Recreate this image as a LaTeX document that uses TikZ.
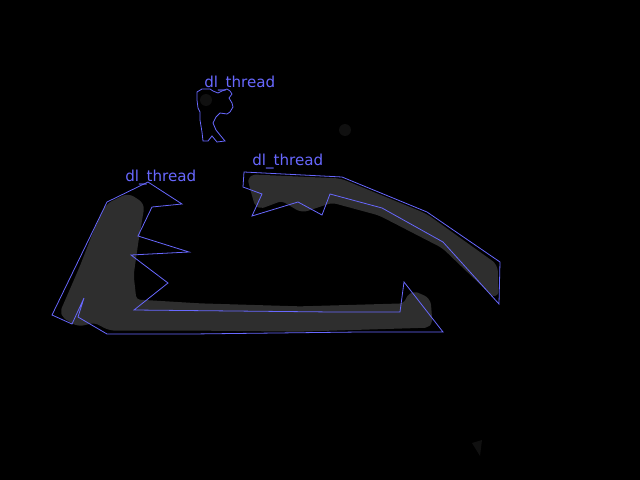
\documentclass[tikz,border=0pt]{standalone}
\usepackage{fontspec}
\setmainfont{DejaVu Sans}
\definecolor{outline}{RGB}{104,104,255}
\definecolor{maskgrey}{RGB}{46,46,46}
\definecolor{faintgrey}{RGB}{16,16,16}

\begin{document}
\begin{tikzpicture}[x=0.02cm,y=-0.02cm,
    region/.style={draw=outline,line width=0.45pt,line join=miter},
    blob/.style={fill=maskgrey,draw=maskgrey,line width=3pt,line join=round,rounded corners=3pt},
    tag/.style={text=outline,font=\fontsize{8.6}{10}\selectfont,inner sep=0pt,anchor=base west}]
    \fill[black] (0,0) rectangle (640,480);
    % faint blobs
    \fill[faintgrey] (345,130) circle (6);
    \fill[faintgrey] (472,443) -- (482,440) -- (480,456) -- cycle;
    \fill[faintgrey] (206,100) circle (6);
    % grey masks
    \path[blob] (108,206) -- (128,196) -- (142,205) -- (136,240) -- (131,275) -- (134,302)
        -- (200,306) -- (300,309) -- (405,306) -- (412,293) -- (428,300) -- (430,325)
        -- (300,329) -- (200,328) -- (110,328) -- (95,320) -- (78,324) -- (62,314)
        -- (82,268) -- (96,232) -- cycle;
    \path[blob] (250,177) -- (340,181) -- (425,216) -- (495,266) -- (496,296)
        -- (444,246) -- (380,213) -- (332,200) -- (302,210) -- (282,198) -- (258,207)
        -- (252,186) -- cycle;
    % outlines
    \draw[region] (148,182) -- (182,204) -- (152,207) -- (138,236) -- (189,252) -- (131,255)
        -- (168,283) -- (134,310) -- (333,312) -- (400,312) -- (404,282) -- (443,332)
        -- (360,332) -- (192,334) -- (107,334) -- (78,317) -- (84,298) -- (72,324)
        -- (52,315) -- (107,202) -- cycle;
    \draw[region] (197,92) -- (202,89) -- (210,89) -- (213,91) -- (218,93) -- (222,91)
        -- (227,89) -- (230,91) -- (232,94) -- (229,98) -- (232,103) -- (233,107)
        -- (230,112) -- (227,114) -- (220,113) -- (216,117) -- (213,123) -- (216,130)
        -- (220,135) -- (225,141) -- (217,142) -- (212,136) -- (208,141) -- (203,141)
        -- (202,132) -- (200,120) -- (200,112) -- (198,108) -- (197,100) -- cycle;
    \draw[region] (244,172) -- (342,177) -- (427,212) -- (500,262) -- (499,304) -- (443,242)
        -- (382,208) -- (330,194) -- (322,215) -- (298,202) -- (252,216) -- (262,194)
        -- (243,187) -- cycle;
    % labels
    \path (125,181) node(lblbody)[tag] {dl\_thread};
    \path (204,88) node(lblsmall)[tag] {dl\_thread};
    \path (252,165) node(lblarc)[tag] {dl\_thread};
\end{tikzpicture}
\end{document}
